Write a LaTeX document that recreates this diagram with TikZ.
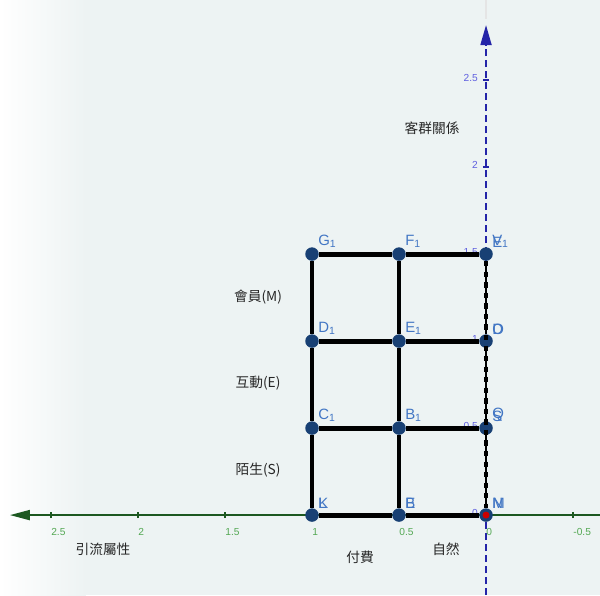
\documentclass[tikz,border=0pt]{standalone}
\usepackage{fontspec}
\setmainfont{Liberation Sans}
\newfontfamily\cjk{Noto Sans CJK TC}
\usetikzlibrary{arrows.meta}

\definecolor{paper}{RGB}{237,243,243}
\definecolor{dotblue}{RGB}{24,64,116}
\definecolor{nameblue}{RGB}{66,118,196}
\definecolor{xaxis}{RGB}{28,88,32}
\definecolor{xnum}{RGB}{84,168,84}
\definecolor{yaxis}{RGB}{36,36,168}
\definecolor{ynum}{RGB}{96,96,224}

\tikzset{
	dot/.style = {circle, fill=dotblue, inner sep=0pt, minimum size=0.27cm},
	ptname/.style = {text=nameblue, font=\fontsize{8.5}{9}\selectfont, inner sep=0.5pt, label distance=0pt},
	edge/.style = {line width=2.8pt, black},
	axislabel/.style = {font=\cjk\fontsize{7.8}{9}\selectfont, text=black!85},
	xnumber/.style = {font=\fontsize{5.8}{6}\selectfont, text=xnum, anchor=north west, inner sep=0pt},
	ynumber/.style = {font=\fontsize{5.8}{6}\selectfont, text=ynum, anchor=east, inner sep=0pt}
}

\begin{document}
\begin{tikzpicture}[x = -3.48cm, y = 3.48cm]
		\useasboundingbox (2.793,-0.460) rectangle (-0.655,2.960);
		% Paper
		\fill[paper] (2.793,-0.460) rectangle (-0.655,2.960);
		\shade[left color=white, right color=paper] (2.793,-0.460) rectangle (2.30,2.960);
		\draw[black!10, line width=1pt] (0,2.96) -- (0,2.85);
		% Axes
		\draw[xaxis, line width=1.1pt, -{Triangle[length=0.4cm, width=0.2cm]}] (-0.655,0) -- (2.736,0);        % X-axis
		\draw[yaxis, line width=1pt, dash pattern=on 0.14cm off 0.08cm, -{Triangle[length=0.4cm, width=0.22cm, sharp]}] (0,-0.460) -- (0,2.816);   % Y-axis
		\foreach \t in {2.5, 2, 1.5, 1, 0.5, -0.5}
			\draw[xaxis, line width=0.8pt] (\t,-0.018) -- (\t,0.018);
		\foreach \t in {2.5, 2, 1.5, 1, 0.5}
			\draw[yaxis, line width=0.8pt] (0.018,\t) -- (-0.018,\t);
		\foreach \t in {2.5, 2, 1.5, 1, 0.5, 0, -0.5}
			\node[xnumber] at (\t,-0.075) {\t};
		\foreach \t in {2.5, 2, 1.5, 1, 0.5, 0}
			\node[ynumber] at (0.045,\t+0.012) {\t};
		% The grid points
		\node[dot, label={[ptname]north east:G\textsubscript{1}}] (G1) at (1,1.5) {};
		\node[dot, label={[ptname]north east:F\textsubscript{1}}] (F1) at (0.5,1.5) {};
		\node[dot, label={[ptname]north east:E}, label={[ptname]north east:V\textsubscript{1}}] (V1) at (0,1.5) {};
		\node[dot, label={[ptname]north east:D\textsubscript{1}}] (D1) at (1,1) {};
		\node[dot, label={[ptname]north east:E\textsubscript{1}}] (E1) at (0.5,1) {};
		\node[dot, label={[ptname]north east:O}, label={[ptname]north east:D}] (O) at (0,1) {};
		\node[dot, label={[ptname]north east:C\textsubscript{1}}] (C1) at (1,0.5) {};
		\node[dot, label={[ptname]north east:B\textsubscript{1}}] (B1) at (0.5,0.5) {};
		\node[dot, label={[ptname]north east:Q}, label={[ptname]north east:S}] (Q) at (0,0.5) {};
		\node[dot, label={[ptname]north east:K}, label={[ptname]north east:L}] (K) at (1,0) {};
		\node[dot, label={[ptname]north east:B}, label={[ptname]north east:E}] (B) at (0.5,0) {};
		\node[dot, label={[ptname]north east:M}, label={[ptname]north east:N}] (M) at (0,0) {};
		\fill[red!80!black] (M) circle[radius=0.07cm];
		% The grid
		\draw[edge] (G1) -- (F1) -- (V1);     % top row
		\draw[edge] (D1) -- (E1) -- (O);
		\draw[edge] (C1) -- (B1) -- (Q);
		\draw[edge] (K) -- (B) -- (M);        % bottom row
		\draw[edge] (G1) -- (D1) -- (C1) -- (K);
		\draw[edge] (F1) -- (E1) -- (B1) -- (B);
		\draw[black, line width=1.6pt] (V1) -- (O) -- (Q) -- (M);
		\draw[black, line width=2.6pt, dashed, xshift=0.035cm] (V1.south) -- (M.north);   % dashed right side
		% Labels
		\node[axislabel] (kequn) at (0.310,2.224) {客群關係};
		\node[axislabel] (huiyuan) at (1.310,1.253) {會員(M)};
		\node[axislabel] (hudong) at (1.310,0.759) {互動(E)};
		\node[axislabel] (mosheng) at (1.310,0.259) {陌生(S)};
		\node[axislabel] (yinliu) at (2.201,-0.195) {引流屬性};
		\node[axislabel] (fufei) at (0.724,-0.241) {付費};
		\node[axislabel] (ziran) at (0.230,-0.195) {自然};
	\end{tikzpicture}
\end{document}
